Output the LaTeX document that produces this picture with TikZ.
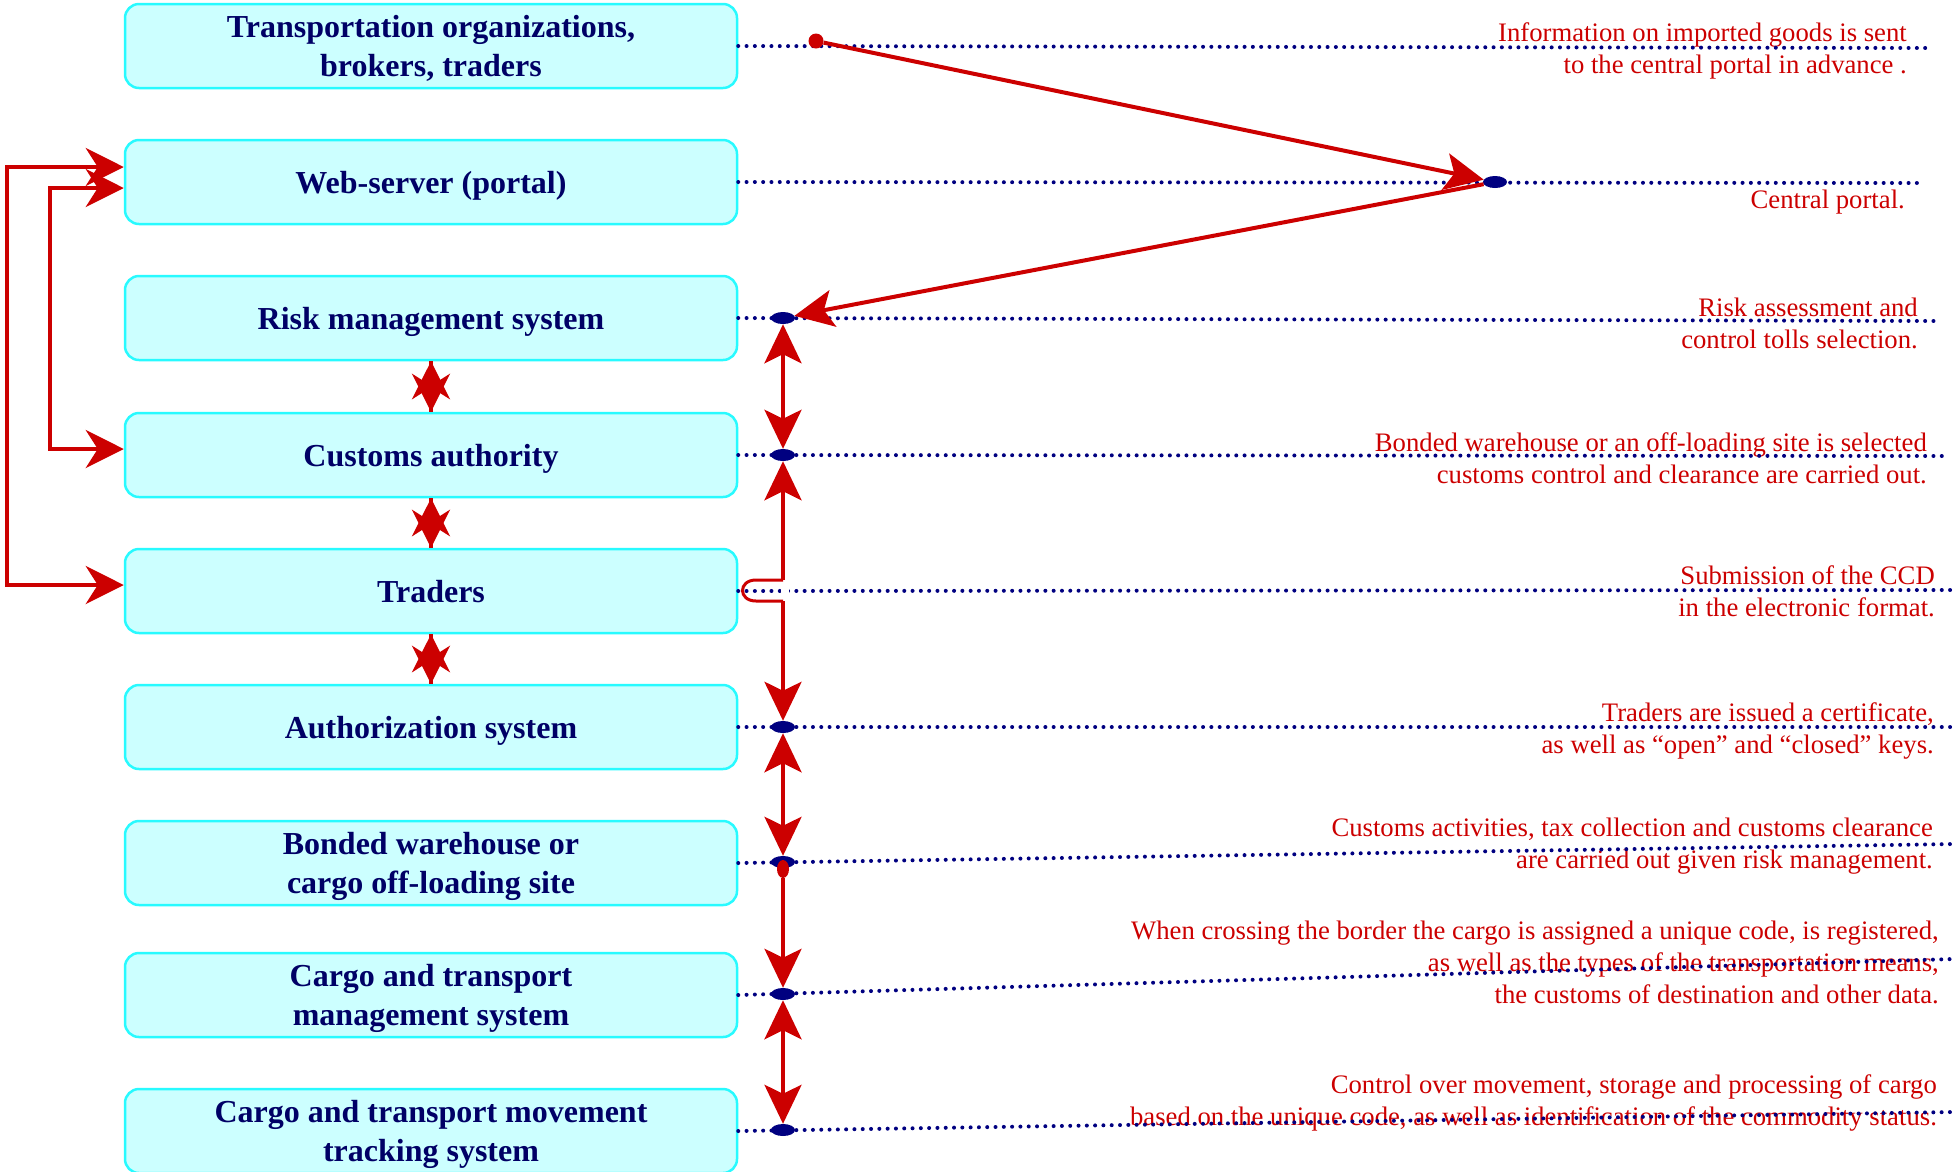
\documentclass[tikz,border=0pt]{standalone}
\usepackage{fontspec}
\setmainfont{Liberation Serif}
\usetikzlibrary{arrows.meta,shapes.geometric}
\definecolor{redc}{RGB}{204,0,0}
\definecolor{navyd}{RGB}{0,0,128}
\definecolor{navyt}{RGB}{0,0,102}
\definecolor{cyanb}{RGB}{40,250,255}
\definecolor{cyanf}{RGB}{204,255,255}
\tikzset{
  box/.style={draw=cyanb, fill=cyanf, line width=2.5pt, rounded corners=14pt,
    minimum width=612pt, minimum height=84pt, inner sep=4pt, align=center, text depth=0pt,
    font=\fontsize{32}{38.5}\selectfont\bfseries, text=navyt},
  lbl/.style={font=\fontsize{26.7}{32}\selectfont, text=redc, align=right, inner sep=0pt, anchor=east},
  dotline/.style={draw=navyd, line width=4pt, line cap=round, dash pattern=on 0pt off 8.3pt},
  ndot/.style={ellipse, fill=navyd, minimum width=24pt, minimum height=12pt, inner sep=0pt},
  rdot/.style={ellipse, fill=redc, minimum width=12pt, minimum height=18pt, inner sep=0pt},
  rcirc/.style={circle, fill=redc, minimum size=15pt, inner sep=0pt},
  rarrow/.style={draw=redc, line width=4pt},
  bigtip/.tip={Stealth[length=38pt,width=38pt,inset=12pt]},
  midtip/.tip={Stealth[length=39pt,width=37pt,inset=9pt]},
}
\begin{document}
\begin{tikzpicture}[x=1pt,y=-1pt]
\useasboundingbox (0,0) rectangle (1958,1171);

% boxes
\node[box] (b1) at (431,46) {Transportation organizations,\\brokers, traders};
\node[box] (b2) at (431,182) {Web-server (portal)};
\node[box] (b3) at (431,318) {Risk management system};
\node[box] (b4) at (431,455) {Customs authority};
\node[box] (b5) at (431,591) {Traders};
\node[box] (b6) at (431,727) {Authorization system};
\node[box] (b7) at (431,863) {Bonded warehouse or\\cargo off-loading site};
\node[box] (b8) at (431,995) {Cargo and transport\\management system};
\node[box] (b9) at (431,1131) {Cargo and transport movement\\tracking system};

% labels
\node[lbl] (l1) at (1907,51) {Information on imported goods is sent\\to the central portal in advance .};
\node[lbl] (l2) at (1905,202) {Central portal.};
\node[lbl] (l3) at (1918,323) {Risk assessment and\\control tolls selection.};
\node[lbl] (l4) at (1927,458) {Bonded warehouse or an off-loading site is selected\\customs control and clearance are carried out.};
\node[lbl] (l5) at (1935,591) {Submission of the CCD\\in the electronic format.};
\node[lbl] (l6) at (1934,731) {Traders are issued a certificate,\\as well as “open” and “closed” keys.};
\node[lbl] (l7) at (1933,846) {Customs activities, tax collection and customs clearance\\are carried out given risk management.};
\node[lbl] (l8) at (1939,962) {When crossing the border the cargo is assigned a unique code, is registered,\\as well as the types of the transportation means,\\the customs of destination and other data.};
\node[lbl] (l9) at (1937,1103) {Control over movement, storage and processing of cargo\\based on the unique code, as well as identification of the commodity status.};

% dotted lines
\coordinate (e1) at (1929,48);
\coordinate (e2) at (1923,183);
\coordinate (e3) at (1938,321);
\coordinate (e4) at (1945,456);
\coordinate (e5) at (1954,590);
\coordinate (e6) at (1954,727);
\coordinate (e7) at (1954,844);
\coordinate (e8) at (1954,959);
\coordinate (e9) at (1954,1112);
\foreach \i in {1,...,9} {\draw[dotline] (b\i.east) -- (e\i);}

% white gap on traders line
\fill[white] (781,578) rectangle (789,603);

% dots
\node[ndot] (p2) at (1495,182) {};
\node[ndot] (d3) at (783,318) {};
\node[ndot] (d4) at (783,455) {};
\node[ndot] (d6) at (783,727) {};
\node[ndot] (d7) at (783,862) {};
\node[ndot] (d8) at (783,994) {};
\node[ndot] (d9) at (783,1130) {};
\node[rcirc] (r1) at (816,41) {};
\node[rdot] (r7) at (783,869) {};

% diagonal arrows
\draw[rarrow,-{midtip}] (r1) -- (p2);
\draw[rarrow,-{midtip}] (p2) -- (d3);

% vertical arrows on the right
\draw[rarrow,{midtip}-{midtip}] (d3) -- (d4);
\coordinate (hopT) at (783,580);
\coordinate (hopB) at (783,601);
\coordinate (hopTL) at (756,580);
\coordinate (hopBL) at (756,601);
\draw[rarrow,-{midtip}] (hopT) -- (d4);
\draw[rarrow,-{midtip}] (hopB) -- (d6);
\draw[rarrow, line width=3pt] (hopT) -- (hopTL) .. controls (738,580) and (738,601) .. (hopBL) -- (hopB);
\draw[rarrow,{midtip}-{midtip}] (d6) -- (d7);
\draw[rarrow,-{midtip}] (r7) -- (d8);
\draw[rarrow,{midtip}-{midtip}] (d8) -- (d9);

% star arrows between boxes
\draw[rarrow,-{bigtip}] (b4.north) -- (b3.south);
\draw[rarrow,-{bigtip}] (b3.south) -- (b4.north);
\draw[rarrow,-{bigtip}] (b5.north) -- (b4.south);
\draw[rarrow,-{bigtip}] (b4.south) -- (b5.north);
\draw[rarrow,-{bigtip}] (b6.north) -- (b5.south);
\draw[rarrow,-{bigtip}] (b5.south) -- (b6.north);

% left connectors
\coordinate (oT) at (7,167);
\coordinate (oB) at (7,585);
\coordinate (iT) at (50,188);
\coordinate (iB) at (50,449);
\draw[rarrow,{bigtip}-{bigtip}] ([yshift=15pt]b2.west) -- (oT) -- (oB) -- ([yshift=6pt]b5.west);
\draw[rarrow,{bigtip}-{bigtip}] ([yshift=-6pt]b2.west) -- (iT) -- (iB) -- ([yshift=6pt]b4.west);
\end{tikzpicture}
\end{document}
